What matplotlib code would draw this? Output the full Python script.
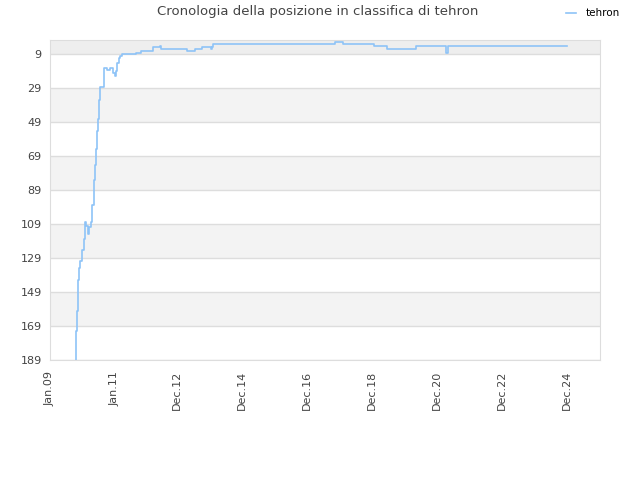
import pandas as pd
import matplotlib
matplotlib.use("Agg")
import matplotlib.pyplot as plt

# rank history (steps)
dates = [
    "2009-10-15", "2009-10-19", "2009-10-30", "2009-11-10", "2009-11-22",
    "2009-12-03", "2009-12-26", "2010-01-17", "2010-01-28", "2010-02-09",
    "2010-03-04", "2010-03-15", "2010-04-06", "2010-04-17", "2010-05-10",
    "2010-05-21", "2010-06-01", "2010-06-13", "2010-06-24", "2010-07-05",
    "2010-07-16", "2010-08-19", "2010-08-30", "2010-10-03", "2010-11-06",
    "2010-12-10", "2011-01-01", "2011-01-12", "2011-01-23", "2011-02-15",
    "2011-02-26", "2011-03-20", "2011-04-23", "2011-08-24", "2011-10-19",
    "2012-03-04", "2012-05-25", "2012-06-01", "2012-11-27", "2013-03-20",
    "2013-06-18", "2013-09-04", "2013-12-20", "2013-12-26", "2014-01-12",
    "2017-09-15", "2017-10-08", "2018-01-06", "2018-11-16", "2018-12-20",
    "2019-05-15", "2020-04-10", "2021-01-22", "2021-03-12", "2021-03-19",
    "2021-04-10", "2024-12-08",
]
ranks = [
    189, 172, 160, 142, 135,
    131, 124, 118, 108, 110,
    115, 111, 108, 98, 83,
    74, 65, 54, 47, 36,
    28, 28, 17, 18, 17,
    20, 22, 19, 14, 11,
    10, 9, 9, 8, 7,
    5, 4, 6, 6, 7,
    6, 5, 6, 5, 3,
    3, 2, 3, 3, 4,
    6, 4, 4, 6, 8,
    4, 4,
]

y_ticks = [9, 29, 49, 69, 89, 109, 129, 149, 169, 189]
x_ticks = ["2009-01-01", "2011-01-01", "2012-12-01", "2014-12-01", "2016-12-01",
           "2018-12-01", "2020-12-01", "2022-12-01", "2024-12-01"]
x_labels = ["Jan.09", "Jan.11", "Dec.12", "Dec.14", "Dec.16",
            "Dec.18", "Dec.20", "Dec.22", "Dec.24"]

df = pd.DataFrame({"date": pd.to_datetime(dates), "rank": ranks})

fig = plt.figure(figsize=(6.4, 4.8), dpi=100)
ax = fig.add_axes([50 / 640, 120 / 480, 550 / 640, 319.7 / 480])

y_top = 0.8
# alternating bands
ax.axhspan(y_top, 9, color="#eeeeee", zorder=0, lw=0)
for lo in range(29, 189, 40):
    ax.axhspan(lo, lo + 20, color="#f3f3f3", zorder=0, lw=0)

ax.step(df["date"], df["rank"], where="post", color="#8ec3f7", lw=1.2,
        label="tehron", zorder=3)

ax.set_xlim(pd.Timestamp("2009-01-01"), pd.Timestamp("2025-12-10"))
ax.set_ylim(189, y_top)
ax.set_yticks(y_ticks)
ax.set_xticks(pd.to_datetime(x_ticks))
ax.set_xticklabels(x_labels, rotation=90)

ax.grid(axis="y", color="#dddddd", lw=1)
ax.set_axisbelow(True)
for s in ax.spines.values():
    s.set_color("#dddddd")
ax.tick_params(length=0, labelsize=8, colors="#444444", pad=6)
ax.tick_params(axis="x", pad=8)

fig.text(318 / 640, 1 - 12 / 480, "Cronologia della posizione in classifica di tehron",
         ha="center", va="center", fontsize=9.5, color="#444444")
ax.legend(loc="upper right", bbox_to_anchor=(624 / 640, 1 - 4 / 480),
          bbox_transform=fig.transFigure, frameon=False, fontsize=7.5,
          handlelength=1.0, handletextpad=0.9, borderaxespad=0)

fig.savefig("out.png", dpi=100)
